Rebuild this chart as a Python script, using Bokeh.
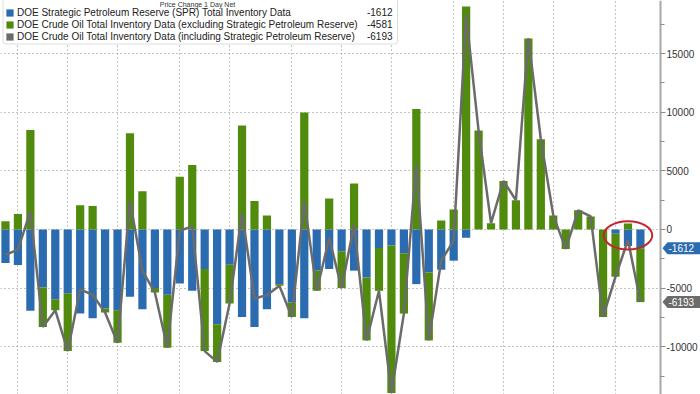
import numpy as np
from bokeh.plotting import figure
from bokeh.models import (Range1d, FixedTicker, Legend, LegendItem, Label,
                          BoxAnnotation, LinearAxis)
from bokeh.core.properties import value
from bokeh.embed import file_html
from bokeh.resources import INLINE

# ---------------- data (thousand barrels, weekly change) ----------------
spr = [-2860, -3030, -6940, -4940, -5940, -5430, -7170, -7570, -6740, -6890,
       -5740, -6800, -5000, -5570, -4600, -5230, -3370, -8090, -3000, -7460,
       -8310, -6800, -4660, -6230, -7570, -3510, -3370, -1860, -3510, -4090,
       -1570, -1370, -2030, -4660, -3660, -3430, -2660, -710, 0, 0,
       0, 0, 0, 0, 0, 0, 0, 0, 0, -370,
       -1400, -1612]
comm = [690, 1310, 8490, -3370, -940, -4940, 2060, 2000, -340, -2770,
        8200, 3260, -370, -4510, 4490, 5490, -7000, -3200, -3310, 8860,
        2430, 1200, -140, -1230, 9970, -1710, 2630, -3140, 3910, -5370,
        -3660, -12570, -5140, 10260, -5800, 770, 1710, 19000, 8430, 540,
        4140, 2490, 16290, 7690, 1200, -1660, 1630, 1110, -7460, -3660,
        500, -4581]
week_index = list(range(len(spr)))
month_starts = [1, 5, 9, 14, 18, 23, 27, 31, 36, 40, 44, 49]
y_ticks = [-10000, -5000, 0, 5000, 10000, 15000]
y_tick_labels = ["-10000", "-5000", "0", "5000", "10000", "15000"]
y_minor_ticks = [-12500, -7500, -2500, 2500, 7500, 12500, 17500]
series_names = [
    "DOE Strategic Petroleum Reserve (SPR) Total Inventory Data",
    "DOE Crude Oil Total Inventory Data (excluding Strategic Petroleum Reserve)",
    "DOE Crude Oil Total Inventory Data (including Strategic Petroleum Reserve)",
]
last_values = ["-1612", "-4581", "-6193"]
legend_title = "Price Change 1 Day Net"

# ---------------- derived stacking ----------------
spr_a = np.array(spr, dtype=float)
comm_a = np.array(comm, dtype=float)
total = spr_a + comm_a
neg_base = np.minimum(spr_a, 0)
pos_base = np.maximum(spr_a, 0)
g_bottom = np.where(comm_a >= 0, pos_base, neg_base)
g_top = g_bottom + comm_a

BLUE = "#2b6bb0"
GREEN = "#508b0e"
GRAY = "#6b6b6b"
RED = "#c4262c"
FONT = "Liberation Sans"

FW, FH = 700, 394
X0 = -0.4
X1 = X0 + FW / 12.45          # one week = 12.45 px
AXIS_X = X0 + 660 / 12.45     # the value axis sits 40 px from the right edge
Y0, Y1 = -14070, 19520
dxpx = (X1 - X0) / FW
dypx = (Y1 - Y0) / FH

p = figure(frame_width=FW, frame_height=FH,
           x_range=Range1d(X0, X1), y_range=Range1d(Y0, Y1),
           output_backend="svg", toolbar_location=None,
           x_axis_location=None, y_axis_location=None,
           min_border=0, min_border_left=0, min_border_top=0, min_border_bottom=0,
           min_border_right=0, outline_line_color=None)

# grids
p.xgrid.ticker = FixedTicker(ticks=month_starts)
p.ygrid.ticker = FixedTicker(ticks=y_ticks)
for g in (p.xgrid, p.ygrid):
    g.grid_line_color = "#8a8a8a"
    g.grid_line_dash = "1 3"
    g.grid_line_width = 1

# white strip right of the axis (grid stops at the axis)
p.add_layout(BoxAnnotation(left=AXIS_X, fill_color="white", fill_alpha=1.0,
                           line_color=None, level="underlay"))

# value axis
ax = LinearAxis(fixed_location=AXIS_X)
ax.ticker = FixedTicker(ticks=y_ticks, minor_ticks=y_minor_ticks)
ax.major_label_overrides = {t: l for t, l in zip(y_ticks, y_tick_labels)}
ax.axis_line_color = "#a8a8a8"
ax.axis_line_width = 2
ax.major_tick_line_color = "#8a8a8a"
ax.minor_tick_line_color = "#8a8a8a"
ax.major_tick_out = 5
ax.major_tick_in = 0
ax.minor_tick_out = 4
ax.minor_tick_in = 0
ax.major_label_standoff = 1
ax.major_label_text_font = FONT
ax.major_label_text_font_size = "10px"
ax.major_label_text_color = "#333333"
p.add_layout(ax, "right")

# bars and line
r_blue = p.vbar(x=week_index, bottom=0, top=spr_a, width=0.66,
                fill_color=BLUE, line_color=None)
r_green = p.vbar(x=week_index, bottom=g_bottom, top=g_top, width=0.66,
                 fill_color=GREEN, line_color=None)
# zero-height bars at the totals, used only as the square legend key of the total series
r_gray_key = p.vbar(x=week_index, bottom=total, top=total, width=0.66,
                    fill_color=GRAY, line_color=None)
r_line = p.line(x=week_index, y=total, line_color=GRAY, line_width=2.5)

# highlight ellipse around the latest three weeks
p.ellipse(x=[float(np.mean(week_index[-3:]))], y=[-500], width=3.9, height=2400,
          fill_color=None, line_color=RED, line_width=2)

# legend frame (box), drawn before the legend itself
p.add_layout(BoxAnnotation(left=2.5, right=397, bottom=FH - 43.5, top=FH + 20,
                           left_units="screen", right_units="screen",
                           bottom_units="screen", top_units="screen",
                           fill_color="white", fill_alpha=1.0,
                           line_color="#8a8a8a", line_width=1, border_radius=3))

legend = Legend(
    items=[LegendItem(label=series_names[0], renderers=[r_blue]),
           LegendItem(label=series_names[1], renderers=[r_green]),
           LegendItem(label=series_names[2], renderers=[r_gray_key])],
    location=(5, FH - 41.5),
    label_text_font=FONT, label_text_font_size="10px", label_text_color="#222222",
    label_height=10, label_standoff=3,
    glyph_height=9, glyph_width=9, spacing=1, padding=4, margin=0,
    border_line_color=None, background_fill_alpha=0.0,
)
p.add_layout(legend)

# legend title (small, at the top edge)
p.add_layout(Label(x=197, y=FH, x_units="screen", y_units="screen",
                   text=legend_title, text_align="center", text_baseline="top",
                   text_font=FONT, text_font_size="7px", text_color="#333333",
                   level="overlay"))

# values at the right of the legend
for k, txt in enumerate(last_values):
    yc = 11.5 + 12 * k
    p.add_layout(Label(x=392, y=FH - yc, x_units="screen", y_units="screen",
                       text=txt, text_align="right", text_baseline="middle",
                       text_font=FONT, text_font_size="10px", text_color="#222222",
                       level="overlay"))

# last-value tags on the axis
tag_vals = [spr_a[-1], total[-1]]
tag_cols = [BLUE, GRAY]
tag_xs, tag_ys = [], []
for v in tag_vals:
    xa = AXIS_X + 2 * dxpx
    xb = AXIS_X + 7 * dxpx
    hh = 6 * dypx
    tag_xs.append([xa, xb, X1, X1, xb])
    tag_ys.append([v, v + hh, v + hh, v - hh, v - hh])
p.patches(xs=tag_xs, ys=tag_ys, fill_color=tag_cols, line_color=None)
p.text(x=[AXIS_X + 8 * dxpx] * 2, y=tag_vals, text=[last_values[0], last_values[2]],
       text_align="left", text_baseline="middle",
       text_font=value(FONT), text_font_size="10px", text_color="white")

open("out.html", "w").write(file_html(p, INLINE))
